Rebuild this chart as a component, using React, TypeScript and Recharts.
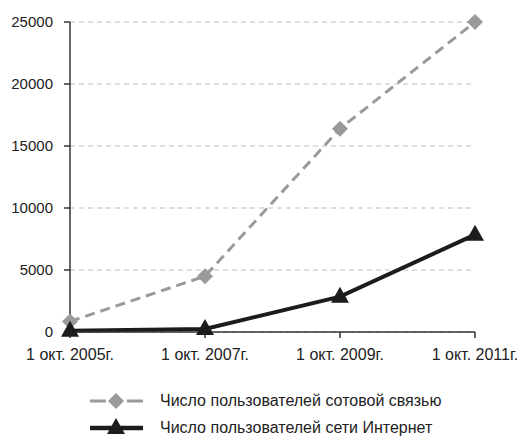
import React from "react";
import { LineChart, Line, XAxis, YAxis, CartesianGrid } from "recharts";

if (typeof document !== "undefined") {
  document.body.style.margin = "0";
}

const categories = ["1 окт. 2005г.", "1 окт. 2007г.", "1 окт. 2009г.", "1 окт. 2011г."];
const mobileUsers = [850, 4500, 16400, 25000];
const internetUsers = [100, 250, 2850, 7850];
const yTicks = [0, 5000, 10000, 15000, 20000, 25000];

const seriesNames = {
  mobile: "Число пользователей сотовой связью",
  internet: "Число пользователей сети Интернет",
};

const data = categories.map((c, i) => ({
  name: c,
  mobile: mobileUsers[i],
  internet: internetUsers[i],
}));

const FONT = "'Liberation Sans', Arial, sans-serif";
const GRAY = "#9a9a9a";
const DARK = "#1c1c1c";

function Diamond(props: any) {
  const { cx, cy } = props;
  if (cx == null || cy == null) return null;
  const r = 8;
  return (
    <path
      d={`M${cx},${cy - r} L${cx + r},${cy} L${cx},${cy + r} L${cx - r},${cy} Z`}
      fill={GRAY}
      stroke="none"
    />
  );
}

function Triangle(props: any) {
  const { cx, cy } = props;
  if (cx == null || cy == null) return null;
  return (
    <path
      d={`M${cx},${cy - 10} L${cx + 9},${cy + 6} L${cx - 9},${cy + 6} Z`}
      fill={DARK}
      stroke="none"
    />
  );
}

function LegendBox() {
  const rows = [
    { key: "mobile", color: GRAY, width: 3, Marker: Diamond },
    { key: "internet", color: DARK, width: 4.5, Marker: Triangle },
  ];
  return (
    <div
      style={{
        position: "absolute",
        left: 0,
        top: 387,
        fontFamily: FONT,
        fontSize: 16,
        color: "#222",
      }}
    >
      {rows.map((r) => (
        <div key={r.key} style={{ display: "flex", alignItems: "center", height: 27 }}>
          <svg width={60} height={24} style={{ marginLeft: 88 }}>
            <line
              x1={2}
              x2={55}
              y1={12}
              y2={12}
              stroke={r.color}
              strokeWidth={r.width}
              strokeDasharray={r.key === "mobile" ? "16 21 16" : undefined}
            />
            <r.Marker cx={28} cy={12} />
          </svg>
          <span style={{ marginLeft: 12, lineHeight: "27px" }}>{(seriesNames as any)[r.key]}</span>
        </div>
      ))}
    </div>
  );
}

export default function App() {
  return (
    <div style={{ width: 520, height: 437, background: "#fff", position: "relative" }}>
      <LineChart
        width={520}
        height={437}
        data={data}
        margin={{ top: 22, right: 45, left: 0, bottom: 0 }}
      >
        <CartesianGrid
          horizontal
          vertical={false}
          stroke="#bdbdbd"
          strokeDasharray="5 4"
        />
        <XAxis
          dataKey="name"
          height={105}
          axisLine={{ stroke: "#333", strokeWidth: 1.5 }}
          tickLine={{ stroke: "#333", strokeWidth: 1.5 }}
          tickSize={6}
          tickMargin={11}
          interval={0}
          tick={{ fontFamily: FONT, fontSize: 16, fill: "#222" }}
        />
        <YAxis
          width={70}
          domain={[0, 25000]}
          ticks={yTicks}
          axisLine={{ stroke: "#333", strokeWidth: 1.5 }}
          tickLine={{ stroke: "#333", strokeWidth: 1.5 }}
          tickSize={6}
          tickMargin={11}
          tick={{ fontFamily: FONT, fontSize: 15, fill: "#222" }}
        />
        <Line
          dataKey="mobile"
          name={seriesNames.mobile}
          type="linear"
          stroke={GRAY}
          strokeWidth={3}
          strokeDasharray="10 6"
          dot={<Diamond />}
          activeDot={false}
          isAnimationActive={false}
        />
        <Line
          dataKey="internet"
          name={seriesNames.internet}
          type="linear"
          stroke={DARK}
          strokeWidth={4}
          dot={<Triangle />}
          activeDot={false}
          isAnimationActive={false}
        />
      </LineChart>
      <LegendBox />
    </div>
  );
}
